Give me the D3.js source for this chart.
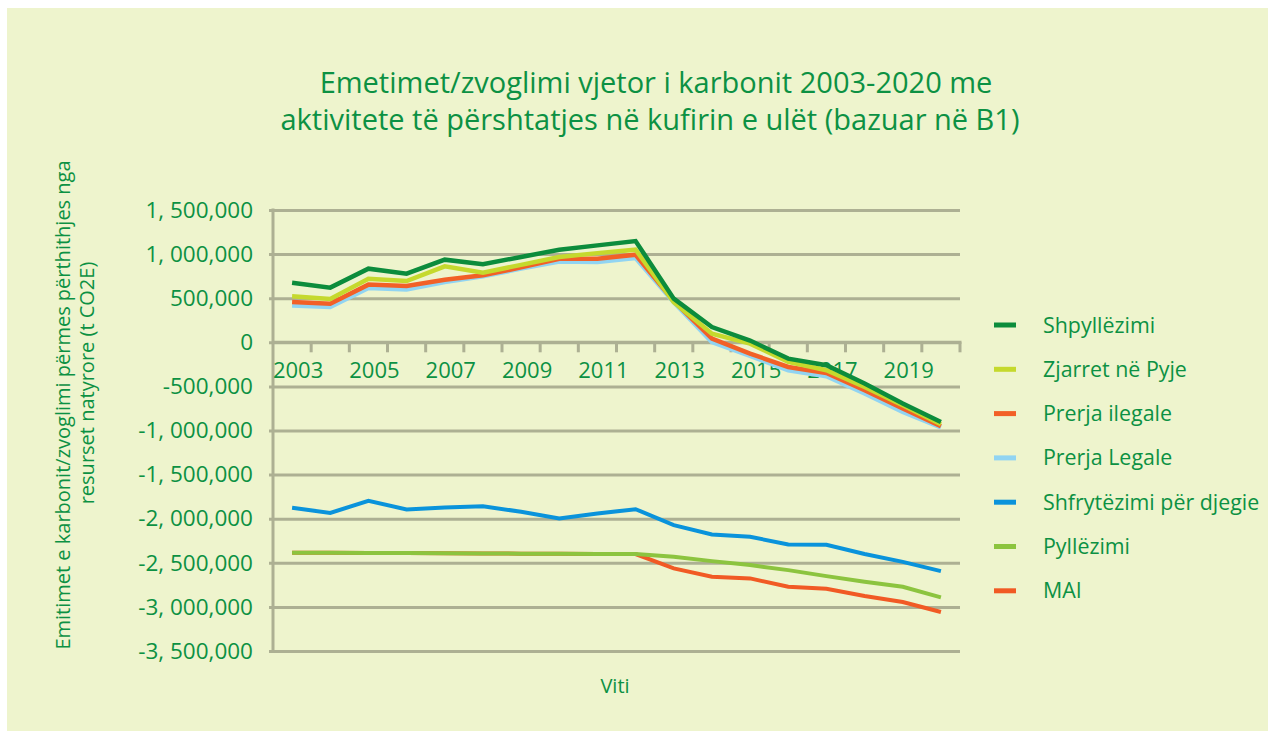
<!DOCTYPE html>
<html>
 <head>
   <meta charset="utf-8" />
   <title>Emetimet/zvoglimi vjetor i karbonit</title>
   <script src="https://cdn.jsdelivr.net/npm/d3@7"></script>
   <style>
     body { margin: 0; background: #ffffff; }
     text { font-family: "Open Sans", "Noto Sans", sans-serif; fill: #0c9143; }
   </style>
 </head>

 <body>
   <script>
     var width = 1268, height = 731;

     // years on the x axis, and which of them get a label
     var years = d3.range(2003, 2021);
     var yearLabels = [2003, 2005, 2007, 2009, 2011, 2013, 2015, 2017, 2019];
     var yTicks = [1500000, 1000000, 500000, 0, -500000, -1000000, -1500000,
                   -2000000, -2500000, -3000000, -3500000];

     // series values (t CO2E)
     var shpyllezimi = [676000, 620000, 835000, 778000, 937000, 884000, 968000, 1050000, 1099000,
                        1148000, 495000, 173000, 20000, -185000, -260000, -468000, -695000, -903000];
     var zjarret     = [521000, 491000, 721000, 695000, 861000, 790000, 878000, 966000, 1011000,
                        1050000, 456000, 98000, -15000, -223000, -317000, -506000, -714000, -929000];
     var prerjaIlegale = [457000, 438000, 654000, 638000, 710000, 759000, 850000, 948000, 948000,
                        993000, 468000, 42000, -128000, -280000, -348000, -544000, -751000, -951000];
     var prerjaLegale  = [416000, 400000, 615000, 600000, 683000, 748000, 835000, 917000, 910000,
                        955000, 453000, 3000, -155000, -317000, -385000, -581000, -789000, -966000];
     var djegie = [-1877000, -1934000, -1798000, -1895000, -1873000, -1858000, -1922000, -1997000, -1941000,
                   -1892000, -2073000, -2178000, -2205000, -2292000, -2296000, -2401000, -2489000, -2594000];
     var pyllezimi = [-2386000, -2387000, -2388000, -2390000, -2392000, -2394000, -2396000, -2398000, -2399000,
                      -2401000, -2432000, -2481000, -2526000, -2583000, -2651000, -2715000, -2772000, -2892000];
     var mai = [-2386000, -2387000, -2388000, -2390000, -2392000, -2394000, -2396000, -2398000, -2399000,
                -2401000, -2564000, -2658000, -2677000, -2772000, -2794000, -2877000, -2945000, -3058000];

     var seriesNames = ["Shpyllëzimi", "Zjarret në Pyje", "Prerja ilegale", "Prerja Legale",
                        "Shfrytëzimi për djegie", "Pyllëzimi", "MAI"];
     var seriesValues = [shpyllezimi, zjarret, prerjaIlegale, prerjaLegale, djegie, pyllezimi, mai];
     var seriesColors = ["#0c8c3c", "#c5d92d", "#f26027", "#91d4f2", "#0a93db", "#8cc43f", "#f15a24"];
     var seriesWidths = [4.5, 4.5, 4.5, 4.5, 4, 4, 4];

     var plot = {left: 273, right: 960, top: 210, bottom: 651};

     var svg = d3.select("body")
                 .append("svg")
                 .attr("width",  width)
                 .attr("height", height);

     svg.append("rect")
        .attr("x", 7).attr("y", 8)
        .attr("width", width - 7).attr("height", height - 8)
        .attr("fill", "#eef4cd");

     var x = d3.scaleBand()
               .domain(years)
               .range([plot.left, plot.right]);

     var y = d3.scaleLinear()
               .domain([-3500000, 1500000])
               .range([plot.bottom, plot.top]);

     var fmt = function(v) {
       // the source writes "1, 500,000": a space after the millions comma
       var s = d3.format(",")(Math.abs(v));
       var parts = s.split(",");
       if (parts.length == 3) s = parts[0] + ", " + parts[1] + "," + parts[2];
       return (v < 0 ? "-" : "") + s;
     };

     var gridColor = "#adb093";

     // horizontal grid lines with small ticks to the left of the axis
     var yAxis = svg.append("g")
        .attr("transform", "translate(" + plot.left + ",0)")
        .call(d3.axisLeft(y).tickValues(yTicks).tickSize(-(plot.right - plot.left)).tickPadding(20).tickFormat(fmt));
     yAxis.select(".domain").remove();
     yAxis.selectAll(".tick line")
          .attr("x1", -4)
          .attr("stroke", gridColor)
          .attr("stroke-width", 3);
     yAxis.selectAll(".tick text")
          .attr("font-size", 22.5)
          .attr("fill", "#0c9143")
          .style("font-family", "\"Open Sans\", sans-serif");

     // vertical axis line
     svg.append("line")
        .attr("x1", plot.left).attr("x2", plot.left)
        .attr("y1", plot.top - 1.5).attr("y2", plot.bottom + 1.5)
        .attr("stroke", gridColor)
        .attr("stroke-width", 3);

     // x axis along zero, ticks between the years
     var xAxisG = svg.append("g").attr("transform", "translate(0," + y(0) + ")");
     xAxisG.append("line")
        .attr("x1", plot.left).attr("x2", plot.right + 1.5)
        .attr("stroke", gridColor)
        .attr("stroke-width", 3);
     var bounds = years.map(function(d) { return x(d); }).concat([plot.right]);
     xAxisG.selectAll(".xtick")
        .data(bounds.slice(1))
        .enter().append("line")
        .attr("x1", function(d) { return d; })
        .attr("x2", function(d) { return d; })
        .attr("y1", 0).attr("y2", 10)
        .attr("stroke", gridColor)
        .attr("stroke-width", 3);
     xAxisG.selectAll(".xlabel")
        .data(yearLabels)
        .enter().append("text")
        .attr("x", function(d) { return x(d) + x.bandwidth() / 2 + 6; })
        .attr("y", 36)
        .attr("text-anchor", "middle")
        .attr("font-size", 22)
        .text(function(d) { return d; });

     // lines, last legend entry drawn first
     var line = d3.line()
                  .x(function(d, i) { return x(years[i]) + x.bandwidth() / 2; })
                  .y(function(d) { return y(d); });

     var order = d3.range(seriesNames.length).reverse();
     svg.append("g").selectAll("path")
        .data(order)
        .enter().append("path")
        .attr("d", function(k) { return line(seriesValues[k]); })
        .attr("fill", "none")
        .attr("stroke", function(k) { return seriesColors[k]; })
        .attr("stroke-width", function(k) { return seriesWidths[k]; })
        .attr("stroke-linejoin", "miter");

     // legend
     var legend = svg.append("g").attr("transform", "translate(994,325)");
     var rows = legend.selectAll("g")
        .data(seriesNames)
        .enter().append("g")
        .attr("transform", function(d, i) { return "translate(0," + (i * 44.3) + ")"; });
     rows.append("rect")
        .attr("x", 0).attr("y", -2.5)
        .attr("width", 22).attr("height", 5)
        .attr("fill", function(d, i) { return seriesColors[i]; });
     rows.append("text")
        .attr("x", 49).attr("y", 7.5)
        .attr("font-size", 21.4)
        .text(function(d) { return d; });

     // title
     var title = svg.append("text")
        .attr("text-anchor", "middle")
        .attr("font-size", 29);
     title.append("tspan").attr("x", 656).attr("y", 93)
        .text("Emetimet/zvoglimi vjetor i karbonit 2003-2020 me");
     title.append("tspan").attr("x", 650).attr("y", 130)
        .text("aktivitete të përshtatjes në kufirin e ulët (bazuar në B1)");

     // axis titles
     svg.append("text")
        .attr("transform", "translate(70,405) rotate(-90)")
        .attr("text-anchor", "middle")
        .attr("font-size", 20)
        .text("Emitimet e karbonit/zvoglimi përmes përthithjes nga");
     svg.append("text")
        .attr("transform", "translate(94,383) rotate(-90)")
        .attr("text-anchor", "middle")
        .attr("font-size", 20)
        .text("resurset natyrore (t CO2E)");

     svg.append("text")
        .attr("x", 615).attr("y", 693)
        .attr("text-anchor", "middle")
        .attr("font-size", 20)
        .text("Viti");
   </script>
 </body>
</html>
